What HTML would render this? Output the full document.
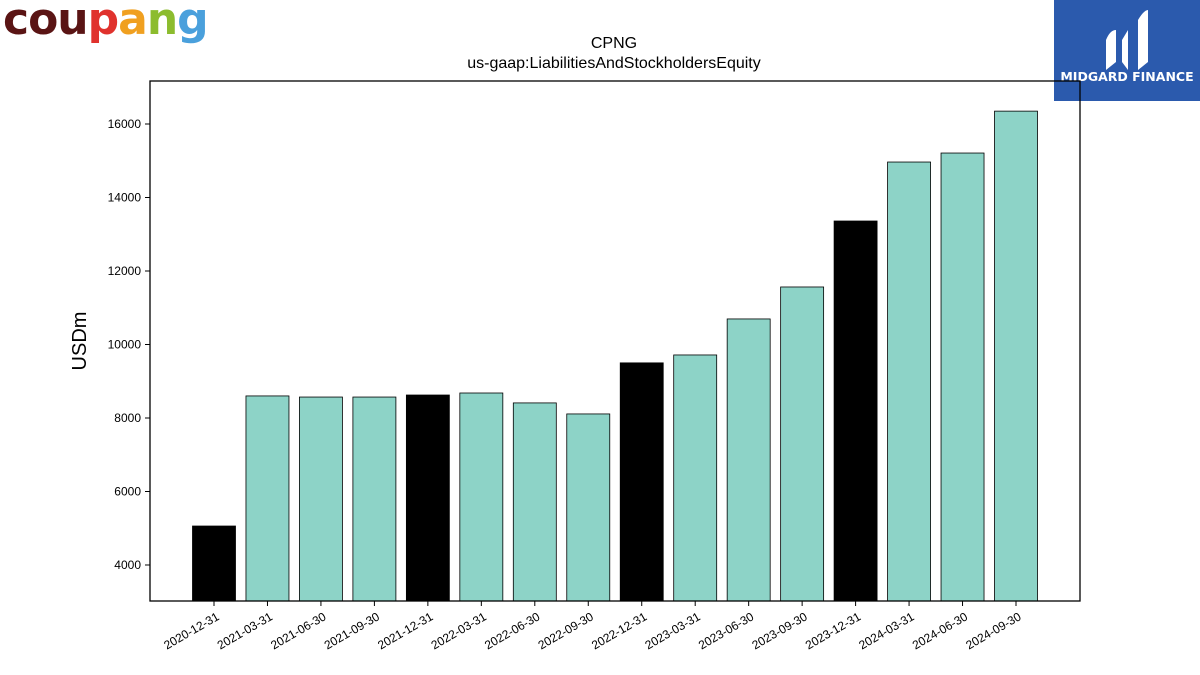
<!DOCTYPE html>
<html><head><meta charset="utf-8"><style>
body{margin:0;background:#fff;width:1200px;height:675px;overflow:hidden;font-family:"Liberation Sans","DejaVu Sans",sans-serif;position:relative}
.logo{position:absolute;left:3px;top:-6px;font-size:44px;font-weight:bold;letter-spacing:-1px;font-family:"DejaVu Sans",sans-serif}
.mid{position:absolute;left:1054px;top:0;width:146px;height:101px;background:#2b5aad}
</style></head><body>
<div class="logo"><span style="color:#5a1414">cou</span><span style="color:#e0322d">p</span><span style="color:#f0a020">a</span><span style="color:#8cbc2e">n</span><span style="color:#4aa0dc">g</span></div>
<div class="mid">
<svg width="146" height="101"><path d="M52 70 L52 40 Q56 30 62 30 L62 62 Z M68 40 L74 30 L74 70 L68 62 Z M84 70 L84 20 Q90 10 94 10 L94 62 Z" fill="#fff"/>
<text x="73" y="81" fill="#fff" font-size="12.5" font-weight="bold" text-anchor="middle" font-family="DejaVu Sans">MIDGARD FINANCE</text></svg></div>
<svg id="c" width="1200" height="675" style="position:absolute;left:0;top:0"></svg>
<script>
const categories=["2020-12-31","2021-03-31","2021-06-30","2021-09-30","2021-12-31","2022-03-31","2022-06-30","2022-09-30","2022-12-31","2023-03-31","2023-06-30","2023-09-30","2023-12-31","2024-03-31","2024-06-30","2024-09-30"];
const values=[5060,8600,8570,8570,8625,8680,8410,8110,9500,9715,10695,11565,13360,14965,15210,16350];
const annual=[1,0,0,0,1,0,0,0,1,0,0,0,1,0,0,0];
const yTicks=[4000,6000,8000,10000,12000,14000,16000];
const NS="http://www.w3.org/2000/svg",svg=document.getElementById('c');
const L=150,R=1080,T=81,B=601,ymin=3020,ymax=17170;
const y=v=>B-(v-ymin)/(ymax-ymin)*(B-T);
const step=(1016-214)/15;
const x=i=>214+i*step;
function mk(t,a,p){const e=document.createElementNS(NS,t);for(const k in a)e.setAttribute(k,a[k]);(p||svg).appendChild(e);return e;}
let t=mk('text',{x:614,y:48,'font-size':16,'text-anchor':'middle'});t.textContent='CPNG';

t=mk('text',{x:614,y:68,'font-size':16,'text-anchor':'middle'});t.textContent='us-gaap:LiabilitiesAndStockholdersEquity';

values.forEach((v,i)=>{const r=mk('rect',{x:x(i)-21.5,y:y(v),width:43,height:B-y(v),fill:annual[i]?'#000':'#8dd3c7',stroke:'#000','stroke-width':0.8});

mk('line',{x1:x(i),x2:x(i),y1:B,y2:B+5,stroke:'#000'});
const l=mk('text',{'font-size':12,'text-anchor':'end',transform:`translate(${x(i)+6},${B+18}) rotate(-30)`});l.textContent=categories[i];
});
yTicks.forEach(v=>{mk('line',{x1:L-5,x2:L,y1:y(v),y2:y(v),stroke:'#000'});
const l=mk('text',{x:L-9,y:y(v)+4,'font-size':12,'text-anchor':'end'});l.textContent=v;
});
const f=mk('rect',{x:L,y:T,width:R-L,height:B-T,fill:'none',stroke:'#000','stroke-width':1.3});

t=mk('text',{'font-size':20,'text-anchor':'middle',transform:'translate(86,341) rotate(-90)'});t.textContent='USDm';

</script></body></html>
